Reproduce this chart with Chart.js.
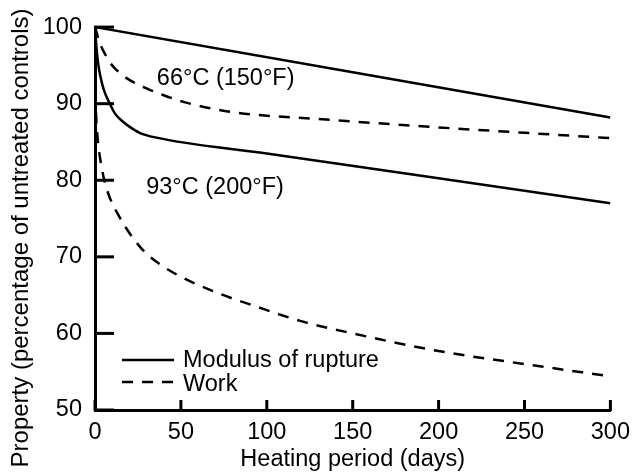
<!DOCTYPE html>
<html>
<head>
<meta charset="utf-8">
<script src="https://cdn.jsdelivr.net/npm/chart.js@4"></script>
<style>
  html, body { margin: 0; padding: 0; background: #fff; }
  #wrap { width: 638px; height: 476px; }
</style>
</head>
<body>
<div id="wrap"><canvas id="chart" width="638" height="476"></canvas></div>
<script>
// Heating period (days) and property (% of untreated controls)
const mor66Days = [0, 300]
const mor66Vals = [100, 88.2]

const work66Days = [0, 3, 6, 10, 15, 20, 30, 40, 52, 80, 130, 200, 250, 300]
const work66Vals = [100, 97.8, 96.4, 95.0, 93.9, 93.1, 92.0, 91.1, 90.2, 88.9, 88.0, 86.9, 86.2, 85.5]

const mor93Days = [0, 1, 2, 3, 5, 8.6, 12, 16, 20, 26, 35, 100, 200, 300]
const mor93Vals = [100, 97.0, 95.0, 93.7, 91.9, 90.0, 88.6, 87.7, 87.0, 86.2, 85.6, 83.5, 80.25, 77.0]

const work93Days = [0, 1, 2, 4, 6, 9, 13, 18, 24, 30, 40, 50, 70, 94, 120, 150, 200, 250, 300]
const work93Vals = [91.5, 87, 84.5, 81.5, 79.5, 77.5, 75.7, 73.8, 71.9, 70.4, 68.7, 67.4, 65.4, 63.5, 61.6, 60.0, 57.7, 56.0, 54.4]

const xTicks = [0, 50, 100, 150, 200, 250, 300]
const yTicks = [50, 60, 70, 80, 90, 100]

const xTitle = 'Heating period (days)'
const yTitle = 'Property (percentage of untreated controls)'
const legendLabels = ['Modulus of rupture', 'Work']

// temperature labels, anchored in data units (day, %)
const curveLabels = [
  { text: '66°C (150°F)', day: 36, value: 92.4 },
  { text: '93°C (200°F)', day: 29.8, value: 78.2 },
]

const FONT = "'Liberation Sans', Arial, sans-serif"
Chart.defaults.font.family = FONT
Chart.defaults.color = '#000'

function toPoints(days, vals) {
  return days.map((d, i) => ({ x: d, y: vals[i] }))
}

function lineSet(days, vals, dashed) {
  return {
    data: toPoints(days, vals),
    borderColor: '#000',
    borderWidth: 2.5,
    borderDash: dashed ? [11, 9] : [],
    pointRadius: 0,
    fill: false,
    cubicInterpolationMode: 'monotone',
  }
}

// inward ticks, temperature labels, legend and y title
const extras = {
  id: 'extras',
  afterDraw(chart) {
    const ctx = chart.ctx
    const xs = chart.scales.x
    const ys = chart.scales.y
    const area = chart.chartArea
    ctx.save()
    ctx.strokeStyle = '#000'
    ctx.fillStyle = '#000'
    ctx.lineWidth = 3
    ys.ticks.forEach(t => {
      const py = ys.getPixelForValue(t.value)
      ctx.beginPath()
      ctx.moveTo(area.left - 1, py)
      ctx.lineTo(area.left + 19, py)
      ctx.stroke()
    })
    xs.ticks.forEach(t => {
      const px = xs.getPixelForValue(t.value)
      ctx.beginPath()
      ctx.moveTo(px, area.bottom + 1)
      ctx.lineTo(px, area.bottom - 10)
      ctx.stroke()
    })

    ctx.font = '23.5px ' + FONT
    ctx.textBaseline = 'alphabetic'
    ctx.textAlign = 'left'
    curveLabels.forEach(l => {
      ctx.fillText(l.text, xs.getPixelForValue(l.day), ys.getPixelForValue(l.value))
    })

    // legend
    ctx.lineWidth = 2.5
    ctx.beginPath()
    ctx.moveTo(122, 360)
    ctx.lineTo(174, 360)
    ctx.stroke()
    ctx.setLineDash([11, 9])
    ctx.beginPath()
    ctx.moveTo(122, 382)
    ctx.lineTo(174, 382)
    ctx.stroke()
    ctx.setLineDash([])
    ctx.fillText(legendLabels[0], 183, 367)
    ctx.fillText(legendLabels[1], 183, 391)

    // y axis title
    ctx.font = '24px ' + FONT
    ctx.translate(28, 238)
    ctx.rotate(-Math.PI / 2)
    ctx.textAlign = 'center'
    ctx.fillText(yTitle, 0, 0)
    ctx.restore()
  },
}

new Chart(document.getElementById('chart'), {
  type: 'line',
  data: {
    datasets: [
      lineSet(mor66Days, mor66Vals, false),
      lineSet(work66Days, work66Vals, true),
      lineSet(mor93Days, mor93Vals, false),
      lineSet(work93Days, work93Vals, true),
    ],
  },
  options: {
    responsive: false,
    animation: false,
    events: [],
    devicePixelRatio: 1,
    layout: { padding: { top: 20, right: 19, left: 0, bottom: 0 } },
    plugins: {
      legend: { display: false },
      tooltip: { enabled: false },
    },
    scales: {
      x: {
        type: 'linear',
        min: 0,
        max: 300,
        afterBuildTicks: s => { s.ticks = xTicks.map(v => ({ value: v })) },
        afterFit: s => { s.height = 66 },
        grid: { display: false, drawTicks: false },
        border: { display: true, color: '#000', width: 3 },
        ticks: { font: { size: 23.5 }, color: '#000', padding: 8, maxRotation: 0 },
        title: { display: true, text: xTitle, font: { size: 23.5 }, color: '#000', padding: { top: 0, bottom: 2 } },
      },
      y: {
        type: 'linear',
        min: 50,
        max: 100,
        afterBuildTicks: s => { s.ticks = yTicks.map(v => ({ value: v })) },
        afterFit: s => { s.width = 95 },
        grid: { display: false, drawTicks: false },
        border: { display: true, color: '#000', width: 3 },
        ticks: { font: { size: 23.5 }, color: '#000', padding: 13 },
      },
    },
  },
  plugins: [extras],
})
</script>
</body>
</html>
